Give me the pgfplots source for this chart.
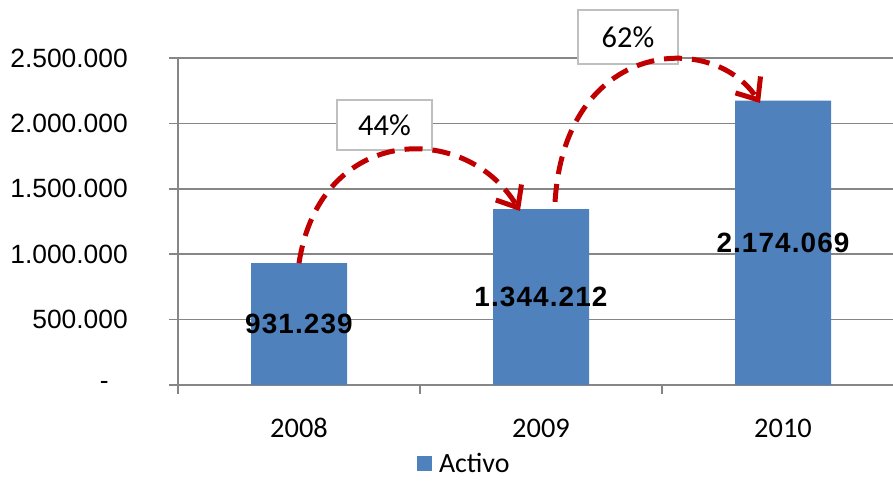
\documentclass[border=0pt]{standalone}
\usepackage{fontspec}
\setmainfont{Liberation Sans}
\newfontfamily\carlito{Carlito}
\newfontfamily\labfont[LetterSpace=4]{Liberation Sans}
\usepackage{pgfplots}
\pgfplotsset{compat=1.18}
\usetikzlibrary{arrows.meta}
\definecolor{barblue}{HTML}{4F81BD}
\definecolor{gridgray}{HTML}{868686}
\definecolor{boxgray}{HTML}{BFBFBF}
\definecolor{arrred}{HTML}{C00000}
\begin{document}
\begin{tikzpicture}
\useasboundingbox (0,0) rectangle (893bp,481bp);
\begin{axis}[
  at={(178bp,96bp)}, anchor=south west,
  width=715bp, height=327bp, scale only axis,
  xmin=-0.5, xmax=2.4545, ymin=0, ymax=2500000,
  axis x line=bottom, axis y line=left,
  axis line style={-, gridgray, line width=1.5bp},
  clip=false,
  ytick={0,500000,1000000,1500000,2000000,2500000},
  yticklabels={\makebox[28bp][l]{-}, 500.000, 1.000.000, 1.500.000, 2.000.000, 2.500.000},
  scaled y ticks=false,
  yticklabel style={font=\fontsize{26.5}{26.5}\selectfont, anchor=east, inner sep=0pt, xshift=-41bp},
  ymajorgrids,
  major grid style={gridgray, line width=1.5bp},
  tick style={gridgray, line width=1.5bp},
  major tick length=9bp, tick align=outside,
  xtick={-0.5,0.5,1.5}, xticklabels={},
  extra x ticks={0,1,2},
  extra x tick labels={2008,2009,2010},
  extra x tick style={major tick length=0pt},
  xticklabel style={font=\carlito\fontsize{28.5}{28.5}\selectfont, anchor=base, inner sep=0pt, yshift=-52bp},
  legend style={at={(0.334,-0.24)}, anchor=west, draw=none, fill=none, inner sep=0pt,
    font=\carlito\fontsize{28}{28}\selectfont,
    /tikz/every odd column/.append style={column sep=5bp}},
  legend image code/.code={\fill[barblue] (0bp,-7.5bp) rectangle (15bp,7.5bp);},
]
\addplot[ybar, bar width=96bp, fill=barblue, draw=none]
  coordinates {(0,931239) (1,1344212) (2,2174069)};
\addlegendentry{Activo}
\addplot[forget plot, draw=none, mark=none, nodes near coords, point meta=explicit symbolic,
  every node near coord/.append style={anchor=center, inner sep=0pt, font=\labfont\bfseries\fontsize{28}{28}\selectfont}]
  coordinates {(0,465620)[931.239] (1,672106)[1.344.212] (2,1087035)[2.174.069]};
\node[draw=boxgray, line width=2bp, fill=white, minimum width=95bp, minimum height=50bp, inner sep=0pt,
  font=\carlito\fontsize{30.5}{30.5}\selectfont] at (axis cs:0.3533,1988000) {44\%};
\node[draw=boxgray, line width=2bp, fill=white, minimum width=100bp, minimum height=54bp, inner sep=0pt,
  font=\carlito\fontsize{30.5}{30.5}\selectfont] at (axis cs:1.3595,2660550) {62\%};
\draw[arrred, line width=5bp, dash pattern=on 18bp off 10bp, -{Straight Barb[length=18bp,width=30bp]}]
  (axis cs:0,931239) .. controls (axis cs:0.0868,1987768) and (axis cs:0.686,2025994) .. (axis cs:0.913,1330275);
\draw[arrred, line width=5bp, dash pattern=on 18bp off 10bp, -{Straight Barb[length=18bp,width=30bp]}]
  (axis cs:1.058,1400000) .. controls (axis cs:1.099,2637615) and (axis cs:1.707,2714068) .. (axis cs:1.905,2155963);
\end{axis}
\end{tikzpicture}
\end{document}
